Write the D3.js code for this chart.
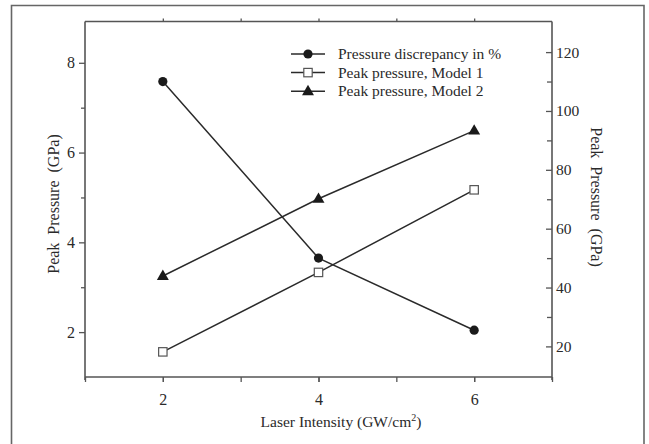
<!DOCTYPE html>
<html>
<head>
<meta charset="utf-8">
<script src="https://cdn.jsdelivr.net/npm/d3@7"></script>
<style>
  html, body { margin: 0; padding: 0; background: #fff; }
  svg { display: block; }
  text { font-family: "Liberation Serif", "Times New Roman", serif; fill: #2a2a2a; }
</style>
</head>
<body>
<script>
// Laser intensity (GW/cm²)
const intensity = [2, 4, 6];
// Pressure discrepancy between models, in % (right axis)
const discrepancy = [110, 50, 25.5];
// Peak pressure from model 1 and model 2, GPa (left axis)
const model1 = [1.56, 3.33, 5.17];
const model2 = [3.25, 4.97, 6.49];

const xTicks = [2, 4, 6];
const leftTicks = [2, 4, 6, 8];
const rightTicks = [20, 40, 60, 80, 100, 120];

const W = 649, H = 444;
const plot = { left: 85, right: 552, top: 21.5, bottom: 377 };
const axisColor = "#555";
const lineColor = "#2a2a2a";

const svg = d3.select("body").append("svg").attr("width", W).attr("height", H);

// outer frame
svg.append("path")
  .attr("d", `M11.5,${H + 2}V5.5H644V${H + 2}`)
  .attr("fill", "none").attr("stroke", "#666").attr("stroke-width", 1.6);

const x = d3.scaleLinear().domain([1, 7]).range([plot.left, plot.right]);
const yL = d3.scaleLinear().domain([1.0, 8.92]).range([plot.bottom, plot.top]);
const yR = d3.scaleLinear().domain([9.6, 130.4]).range([plot.bottom, plot.top]);

function styleAxis(g) {
  g.select(".domain").remove();
  g.selectAll("line").attr("stroke", axisColor).attr("stroke-width", 1.3);
  g.selectAll("text").attr("font-size", 16).attr("fill", "#2a2a2a")
    .style("font-family", '"Liberation Serif", "Times New Roman", serif');
}

// frame lines
const frame = svg.append("g").attr("stroke", axisColor).attr("stroke-width", 1.6).attr("fill", "none");
frame.append("line").attr("x1", plot.left).attr("x2", plot.right).attr("y1", plot.top).attr("y2", plot.top);
frame.append("line").attr("x1", plot.left).attr("x2", plot.right).attr("y1", plot.bottom).attr("y2", plot.bottom);
frame.append("line").attr("x1", plot.left).attr("x2", plot.left).attr("y1", plot.top).attr("y2", plot.bottom + 3);
frame.append("line").attr("x1", plot.right).attr("x2", plot.right).attr("y1", plot.top).attr("y2", plot.bottom + 3);

// bottom axis: minor ticks at every integer, labels at majors
svg.append("g").attr("transform", `translate(0,${plot.bottom})`)
  .call(d3.axisBottom(x).tickValues(d3.range(1, 8)).tickSize(5).tickFormat(() => ""))
  .call(styleAxis);
svg.append("g").attr("transform", `translate(0,${plot.bottom})`)
  .call(d3.axisBottom(x).tickValues(xTicks).tickSize(5).tickPadding(12).tickFormat(d3.format("d")))
  .call(styleAxis);

// top axis small ticks
svg.append("g").attr("transform", `translate(0,${plot.top})`)
  .call(d3.axisTop(x).tickValues([2, 3, 4, 5, 6]).tickSize(3).tickFormat(() => ""))
  .call(styleAxis);

// left axis
svg.append("g").attr("transform", `translate(${plot.left},0)`)
  .call(d3.axisLeft(yL).tickValues([3, 5, 7]).tickSize(4).tickFormat(() => ""))
  .call(styleAxis);
svg.append("g").attr("transform", `translate(${plot.left},0)`)
  .call(d3.axisLeft(yL).tickValues(leftTicks).tickSize(6).tickPadding(4).tickFormat(d3.format("d")))
  .call(styleAxis);

// right axis: ticks drawn inward, labels outside
svg.append("g").attr("transform", `translate(${plot.right},0)`)
  .call(d3.axisLeft(yR).tickValues([30, 50, 70, 90, 110]).tickSize(5).tickFormat(() => ""))
  .call(styleAxis);
const rAx = svg.append("g").attr("transform", `translate(${plot.right},0)`)
  .call(d3.axisRight(yR).tickValues(rightTicks).tickSize(0).tickPadding(4).tickFormat(d3.format("d")))
  .call(styleAxis);
rAx.selectAll("text").attr("font-size", 15.5);
rAx.selectAll(".tick").append("line").attr("x1", -6).attr("x2", 0)
  .attr("stroke", axisColor).attr("stroke-width", 1.3);

// x-axis title with superscript
const xt = svg.append("text").attr("x", 341).attr("y", 427).attr("text-anchor", "middle")
  .attr("font-size", 15.5);
xt.append("tspan").text("Laser Intensity (GW/cm");
xt.append("tspan").attr("font-size", 10).attr("dy", -6).text("2");
xt.append("tspan").attr("dy", 6).text(")");

svg.append("text")
  .attr("transform", "translate(59,204) rotate(-90)")
  .attr("text-anchor", "middle").attr("font-size", 16)
  .attr("xml:space", "preserve")
  .text("Peak  Pressure  (GPa)");

svg.append("text")
  .attr("transform", "translate(591,197) rotate(90)")
  .attr("text-anchor", "middle").attr("font-size", 16)
  .attr("xml:space", "preserve")
  .text("Peak  Pressure  (GPa)");

// series
const series = [
  { name: "Pressure discrepancy in %", values: discrepancy, y: yR, marker: "circle" },
  { name: "Peak pressure, Model 1", values: model1, y: yL, marker: "square" },
  { name: "Peak pressure, Model 2", values: model2, y: yL, marker: "triangle" }
];

function drawMarker(g, type, cx, cy) {
  if (type === "circle") {
    g.append("circle").attr("cx", cx).attr("cy", cy).attr("r", 4.6).attr("fill", "#1a1a1a");
  } else if (type === "square") {
    g.append("rect").attr("x", cx - 4.2).attr("y", cy - 4.2).attr("width", 8.4).attr("height", 8.4)
      .attr("fill", "#fff").attr("stroke", "#555").attr("stroke-width", 1.2);
  } else {
    g.append("path").attr("d", d3.symbol(d3.symbolTriangle, 62)()).attr("transform", `translate(${cx},${cy + 0.5})`)
      .attr("fill", "#1a1a1a");
  }
}

series.forEach(s => {
  const line = d3.line().x((d, i) => x(intensity[i])).y(d => s.y(d));
  svg.append("path").datum(s.values).attr("d", line)
    .attr("fill", "none").attr("stroke", lineColor).attr("stroke-width", 1.5);
  const g = svg.append("g");
  s.values.forEach((v, i) => drawMarker(g, s.marker, x(intensity[i]), s.y(v)));
});

// legend
const legend = svg.append("g");
series.forEach((s, i) => {
  const cy = 54 + i * 18.6;
  legend.append("line").attr("x1", 291).attr("x2", 325).attr("y1", cy).attr("y2", cy)
    .attr("stroke", lineColor).attr("stroke-width", 1.5);
  drawMarker(legend, s.marker, 308, cy);
  legend.append("text").attr("x", 338).attr("y", cy + 5).attr("font-size", 15.5).text(s.name);
});
</script>
</body>
</html>
